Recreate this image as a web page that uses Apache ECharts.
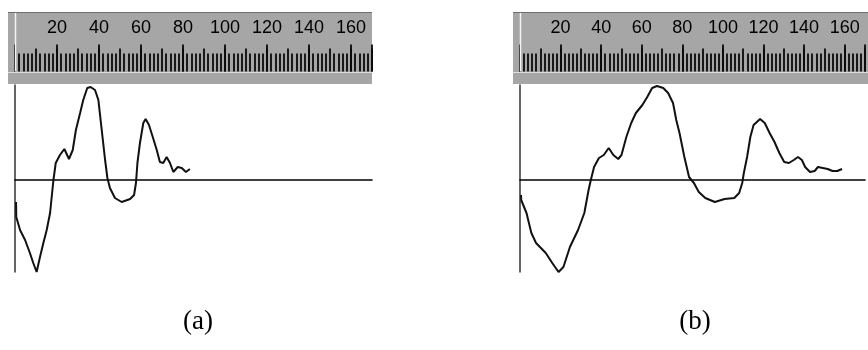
<!DOCTYPE html>
<html>
<head>
<meta charset="utf-8">
<title>Waveform (a) and (b)</title>
<script src="https://cdn.jsdelivr.net/npm/echarts@6/dist/echarts.min.js"></script>
<style>
  html, body { margin: 0; padding: 0; background: #ffffff; }
  #chart { width: 868px; height: 350px; }
</style>
</head>
<body>
<div id="chart"></div>
<script>
// Ruler labels shown on the scale above each trace
const rulerLabels = [20, 40, 60, 80, 100, 120, 140, 160];

// Trace (a): sample positions and amplitudes
const timeA = [0.5, 0.6, 2.4, 4.8, 7.1, 8.7, 10.3, 11.9, 13.5, 15.1, 16.7, 18.3, 19.4, 21.4, 23.5, 25.7,
  27.5, 29, 31, 32.5, 34.4, 36, 38.1, 39.7, 41.3, 42.9, 44, 45.2, 47.6, 50.8, 54.8, 56.7, 57.6, 58.3,
  59.5, 61.1, 62.2, 63.8, 65.6, 67.5, 69, 70.6, 72.2, 73.8, 75.4, 77.5, 79.4, 81.4, 83.3];
const ampA = [-22, -37, -50, -60, -73, -83, -92, -77, -63, -50, -33, 0, 17, 25, 31, 21,
  30, 50, 67, 80, 92, 93, 90, 80, 50, 20, 2, -8, -18, -22, -19, -15, -3, 17,
  37, 57, 61, 55, 43, 30, 18, 17, 23, 17, 8, 13, 12, 8, 11];

// Trace (b): sample positions and amplitudes
const timeB = [0.5, 0.6, 3.2, 5.6, 7.9, 12.7, 15.9, 19, 21.4, 24.6, 28.6, 31.7, 33.8, 34.9, 36.5, 38.9,
  41.3, 43.7, 46, 48.4, 50, 52.4, 54.8, 57.1, 60.3, 62.7, 65.1, 67.5, 70.6, 73, 75.4, 77, 78.6, 81,
  83.3, 85.7, 88.1, 91.3, 96, 100.8, 105.6, 108, 109.5, 110.3, 111.9, 113.5, 115.1, 118.3, 120.6, 123,
  125.4, 127.8, 130.2, 132.5, 134.9, 137, 138.9, 140.5, 142.9, 145.2, 146.8, 149.2, 151.6, 154, 156.3, 158.7];
const ampB = [-15, -20, -33, -53, -63, -73, -83, -92, -87, -67, -50, -33, -10, 0, 13, 22,
  25, 32, 25, 21, 25, 43, 57, 67, 75, 83, 92, 94, 92, 87, 77, 60, 47, 23,
  3, -3, -12, -18, -22, -19, -18, -13, -3, 7, 23, 43, 55, 61, 57, 47,
  38, 27, 18, 17, 20, 23, 20, 13, 8, 9, 13, 12, 11, 9, 9, 11];

const captions = ['(a)', '(b)'];

function pairs(xs, ys) {
  return xs.map((x, i) => [x, ys[i]]);
}

const X_MAX = 170;
const Y_MIN = -92, Y_MAX = 95;
const panels = [
  { left: 15, rulerLeft: 8, rulerRight: 372, data: pairs(timeA, ampA), caption: captions[0], cx: 193 },
  { left: 520, rulerLeft: 513, rulerRight: 868, data: pairs(timeB, ampB), caption: captions[1], cx: 690 }
];

const GRID_TOP = 85, GRID_BOTTOM = 272, GRID_W = 357;
const RULER_TOP = 12, RULER_BOTTOM = 84, RULER_LINE = 71.5;
const RULER_GRAY = '#a6a6a6';

const grid = [], xAxis = [], yAxis = [], series = [], graphic = [], title = [];

panels.forEach((p, i) => {
  grid.push({ left: p.left, top: GRID_TOP, width: GRID_W, height: GRID_BOTTOM - GRID_TOP, containLabel: false });

  // ruler background
  graphic.push({
    type: 'rect', silent: true, z: 0,
    shape: { x: p.rulerLeft, y: RULER_TOP, width: p.rulerRight - p.rulerLeft, height: RULER_BOTTOM - RULER_TOP },
    style: { fill: RULER_GRAY }
  });
  graphic.push({
    type: 'line', silent: true, z: 1,
    shape: { x1: p.rulerLeft, y1: RULER_TOP + 0.5, x2: p.rulerRight, y2: RULER_TOP + 0.5 },
    style: { stroke: '#6e6e6e', lineWidth: 1 }
  });
  graphic.push({
    type: 'line', silent: true, z: 1,
    shape: { x1: p.left + 0.5, y1: RULER_TOP + 1, x2: p.left + 0.5, y2: RULER_LINE },
    style: { stroke: '#f4f4f4', lineWidth: 1.5 }
  });
  graphic.push({
    type: 'line', silent: true, z: 1,
    shape: { x1: p.rulerLeft, y1: RULER_LINE + 1, x2: p.rulerRight, y2: RULER_LINE + 1 },
    style: { stroke: '#dedede', lineWidth: 1 }
  });

  const base = i * 3;
  // data axis: the line through zero amplitude
  xAxis.push({
    type: 'value', gridIndex: i, min: 0, max: X_MAX,
    axisLine: { show: true, onZero: true, lineStyle: { color: '#000', width: 1.6 } },
    axisTick: { show: false }, axisLabel: { show: false }, splitLine: { show: false }
  });
  // ruler: 10-unit ticks with 2-unit minor ticks
  xAxis.push({
    type: 'value', gridIndex: i, min: 0, max: X_MAX, interval: 10, position: 'top',
    offset: GRID_TOP - RULER_LINE,
    axisLine: { show: false },
    axisTick: { show: true, length: 23, lineStyle: { color: '#0a0a0a', width: 1.8 } },
    minorTick: { show: true, splitNumber: 5, length: 18, lineStyle: { color: '#0a0a0a', width: 1.8 } },
    axisLabel: { show: false }, splitLine: { show: false }
  });
  // ruler: labelled 20-unit ticks
  xAxis.push({
    type: 'value', gridIndex: i, min: 0, max: X_MAX, interval: 20, position: 'top',
    offset: GRID_TOP - RULER_LINE,
    axisLine: { show: false },
    axisTick: { show: true, length: 27, lineStyle: { color: '#0a0a0a', width: 1.8 } },
    axisLabel: {
      show: true, margin: 34, color: '#000', fontFamily: 'Liberation Sans', fontSize: 18,
      formatter: v => (rulerLabels.indexOf(v) >= 0 ? String(v) : '')
    },
    splitLine: { show: false }
  });

  yAxis.push({
    type: 'value', gridIndex: i, min: Y_MIN, max: Y_MAX,
    axisLine: { show: true, lineStyle: { color: '#333', width: 1.5 } },
    axisTick: { show: false }, axisLabel: { show: false }, splitLine: { show: false }
  });

  series.push({
    type: 'line', xAxisIndex: base, yAxisIndex: i, data: p.data,
    showSymbol: false, smooth: false, clip: true,
    lineStyle: { color: '#111', width: 2 }, z: 5
  });

  title.push({
    text: p.caption, left: p.cx, top: 303, textAlign: 'center',
    textStyle: { fontFamily: 'Liberation Serif', fontWeight: 'normal', fontSize: 27, color: '#000' }
  });
});

const chart = echarts.init(document.getElementById('chart'), null, { renderer: 'canvas' });
chart.setOption({
  animation: false,
  backgroundColor: '#ffffff',
  title, grid, xAxis, yAxis, series, graphic
});
</script>
</body>
</html>
